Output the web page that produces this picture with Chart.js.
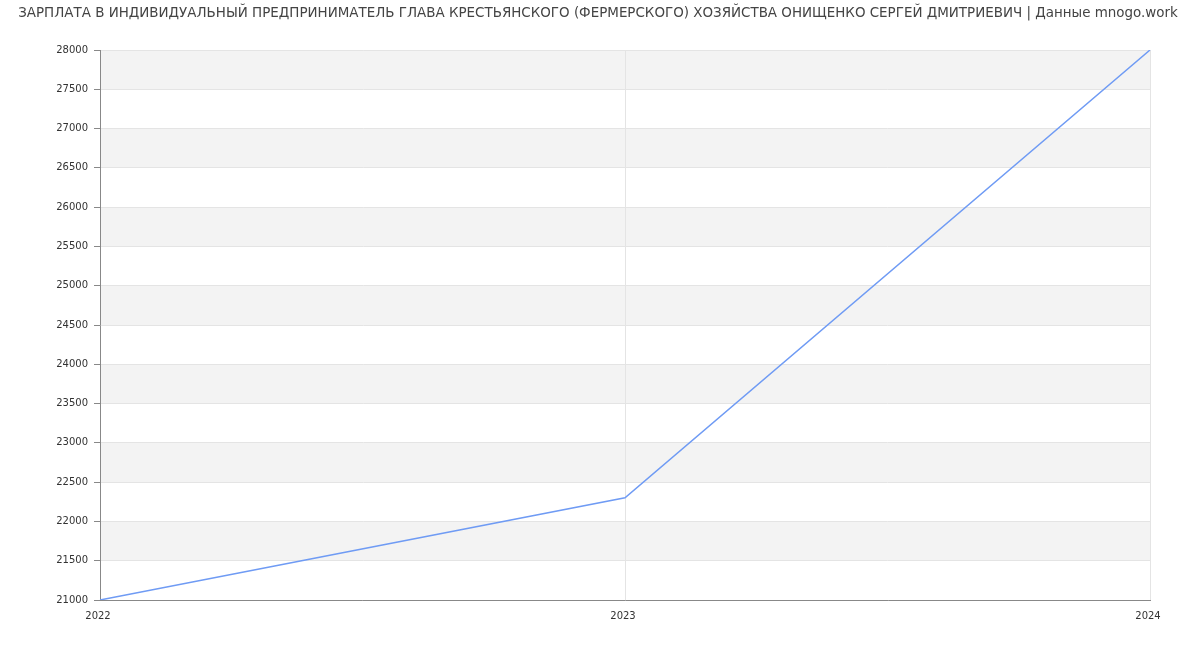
<!DOCTYPE html>
<html>
<head>
<meta charset="utf-8">
<script src="https://cdn.jsdelivr.net/npm/chart.js@4/dist/chart.umd.min.js"></script>
<style>
html,body{margin:0;padding:0;background:#fff;}
#wrap{width:1200px;height:650px;}
</style>
</head>
<body>
<div id="wrap"><canvas id="c" width="1200" height="650"></canvas></div>
<script>
const titleText = "ЗАРПЛАТА В ИНДИВИДУАЛЬНЫЙ ПРЕДПРИНИМАТЕЛЬ ГЛАВА КРЕСТЬЯНСКОГО (ФЕРМЕРСКОГО) ХОЗЯЙСТВА ОНИЩЕНКО СЕРГЕЙ ДМИТРИЕВИЧ | Данные mnogo.work";
const years = ["2022", "2023", "2024"];
const salary = [21000, 22300, 28000];
const yMin = 21000, yMax = 28000, yStep = 500;

const bandPlugin = {
  id: 'bands',
  beforeDraw(chart) {
    const {ctx, chartArea, scales} = chart;
    const y = scales.y;
    const ticks = y.ticks;
    ctx.save();
    ctx.fillStyle = '#f3f3f3';
    for (let i = 0; i < ticks.length - 1; i++) {
      if (i % 2 === 1) {
        const y1 = y.getPixelForValue(ticks[i].value);
        const y2 = y.getPixelForValue(ticks[i + 1].value);
        ctx.fillRect(chartArea.left, y2, chartArea.right - chartArea.left, y1 - y2);
      }
    }
    ctx.restore();
  }
};

const titlePlugin = {
  id: 'topTitle',
  afterDraw(chart) {
    const ctx = chart.ctx;
    ctx.save();
    ctx.font = "13.45px 'DejaVu Sans', sans-serif";
    ctx.fillStyle = '#444';
    ctx.textAlign = 'center';
    ctx.textBaseline = 'middle';
    ctx.fillText(titleText, chart.width / 2 - 2, 13.5);
    ctx.restore();
  }
};

Chart.defaults.font.family = "'DejaVu Sans', sans-serif";
Chart.defaults.animation = false;

new Chart(document.getElementById('c'), {
  type: 'line',
  data: {
    labels: years,
    datasets: [{
      data: salary,
      borderColor: '#6f9bf4',
      borderWidth: 1.5,
      pointRadius: 0,
      tension: 0,
      fill: false
    }]
  },
  options: {
    responsive: false,
    maintainAspectRatio: false,
    layout: { padding: { left: 0, right: 50, top: 50, bottom: 0 } },
    plugins: {
      legend: { display: false },
      tooltip: { enabled: false },
      title: { display: false }
    },
    scales: {
      x: {
        offset: false,
        grid: { color: '#e4e4e4', drawTicks: false },
        border: { color: '#888', width: 1 },
        ticks: { color: '#333', font: { size: 10 }, padding: 10, maxRotation: 0, labelOffset: -2 },
        afterFit(s) { s.height = 50; }
      },
      y: {
        min: yMin,
        max: yMax,
        grid: { color: '#e4e4e4', tickColor: '#888', tickLength: 6 },
        border: { color: '#888', width: 1 },
        ticks: { stepSize: yStep, color: '#333', font: { size: 10 }, padding: 6,
                 callback: (v) => String(v) },
        afterFit(s) { s.width = 100; }
      }
    }
  },
  plugins: [bandPlugin, titlePlugin]
});
</script>
</body>
</html>
